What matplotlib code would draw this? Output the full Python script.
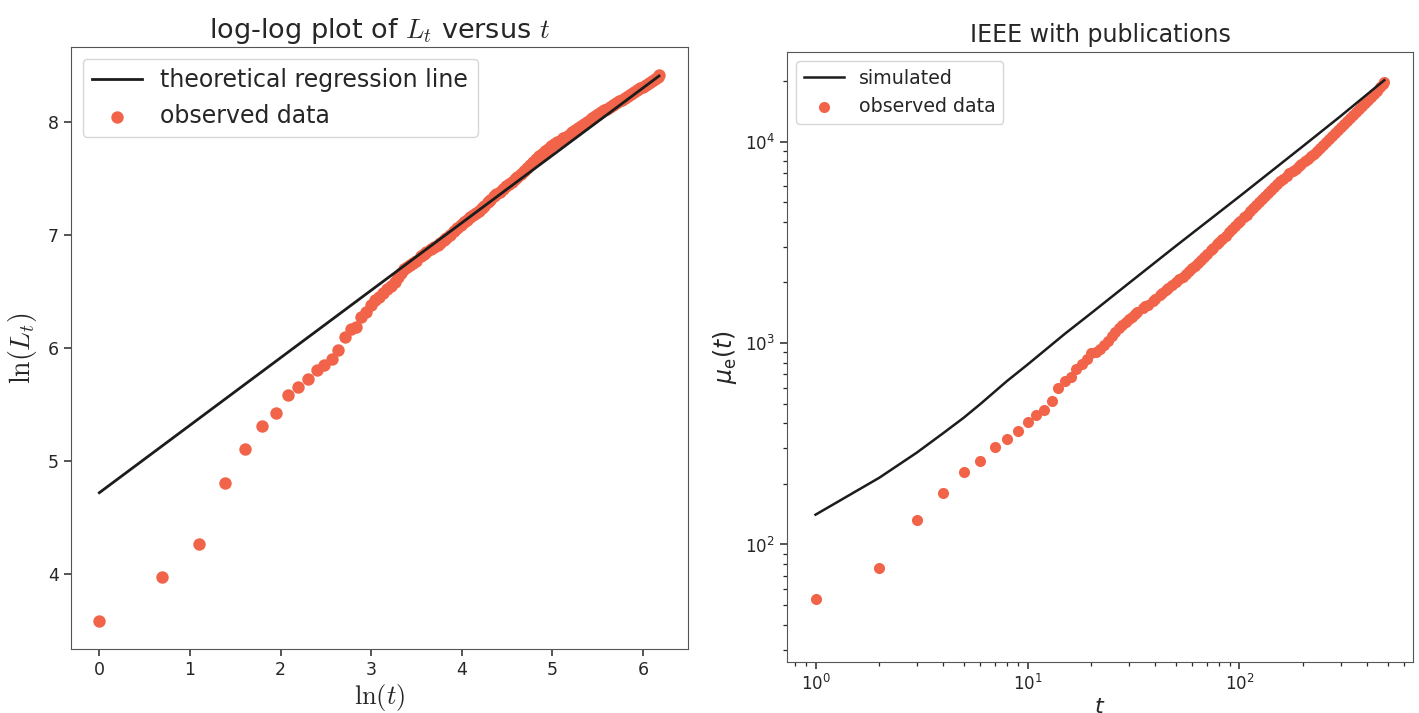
import numpy as np
import matplotlib
matplotlib.use("Agg")
import matplotlib.pyplot as plt

# time steps (same for both panels)
t = [1, 2, 3, 4, 5, 6, 7, 8, 9, 10, 11, 12, 13, 14, 15, 16, 17, 18, 19, 20,
     21, 22, 23, 24, 25, 26, 27, 28, 29, 30, 31, 32, 33, 35, 36, 37, 39, 40,
     42, 43, 45, 46, 48, 50, 52, 54, 56, 58, 60, 62, 64, 66, 68, 70, 73, 75,
     78, 80, 83, 86, 89, 92, 95, 98, 101, 105, 108, 112, 116, 120, 124, 128,
     132, 137, 141, 146, 151, 156, 161, 167, 172, 178, 184, 190, 196, 203,
     210, 217, 224, 231, 239, 247, 255, 264, 272, 281, 291, 300, 310, 320,
     331, 342, 353, 365, 377, 390, 403, 416, 430, 444, 459, 474, 482]

# left panel: ln(L_t) observed
lnL = [3.584, 3.971, 4.263, 4.800, 5.101, 5.304, 5.419, 5.581, 5.650, 5.720,
       5.803, 5.847, 5.897, 5.980, 6.092, 6.163, 6.181, 6.269, 6.319, 6.378,
       6.422, 6.453, 6.481, 6.516, 6.549, 6.584, 6.624, 6.663, 6.695, 6.715,
       6.735, 6.753, 6.771, 6.811, 6.830, 6.848, 6.875, 6.888, 6.913, 6.925,
       6.957, 6.972, 7.002, 7.031, 7.058, 7.084, 7.110, 7.133, 7.154, 7.174,
       7.193, 7.212, 7.233, 7.256, 7.290, 7.311, 7.341, 7.357, 7.381, 7.404,
       7.427, 7.448, 7.470, 7.491, 7.512, 7.540, 7.560, 7.589, 7.617, 7.644,
       7.670, 7.693, 7.714, 7.740, 7.761, 7.783, 7.801, 7.817, 7.833, 7.852,
       7.868, 7.887, 7.906, 7.924, 7.941, 7.960, 7.979, 7.997, 8.015, 8.032,
       8.051, 8.069, 8.084, 8.101, 8.116, 8.132, 8.148, 8.163, 8.180, 8.195,
       8.212, 8.229, 8.245, 8.261, 8.278, 8.295, 8.311, 8.327, 8.343, 8.359,
       8.376, 8.392, 8.410]

# theoretical regression line (end points)
reg_lnt = [0.0, 6.178]
reg_lnL = [4.717, 8.405]

# right panel: mu_e(t) observed
mu = [53.6, 76, 133, 181, 230, 259, 305, 334, 365, 405, 439, 464, 518, 601,
      652, 676, 743, 791, 834, 888, 904, 938, 982, 1028, 1079, 1135, 1186,
      1231, 1276, 1318, 1353, 1387, 1420, 1489, 1521, 1552, 1618, 1652, 1726,
      1766, 1841, 1879, 1945, 2009, 2070, 2138, 2213, 2286, 2355, 2427, 2512,
      2594, 2679, 2761, 2891, 2972, 3090, 3177, 3296, 3420, 3548, 3673, 3802,
      3926, 4055, 4217, 4345, 4519, 4688, 4864, 5035, 5200, 5372, 5585, 5768,
      5984, 6194, 6383, 6566, 6792, 6982, 7178, 7362, 7551, 7745, 7980, 8222,
      8472, 8730, 8974, 9290, 9616, 9954, 10310, 10640, 11020, 11430, 11800,
      12220, 12640, 13090, 13550, 14030, 14520, 15030, 15570, 16110, 16630,
      17280, 17910, 18600, 19310, 19850]

# simulated curve
t_sim = [1, 2, 3, 4, 5, 6, 8, 10, 15, 20, 30, 50, 100, 200, 300, 482]
mu_sim = [140.6, 214.6, 285.6, 357, 426, 499, 648, 782, 1112, 1410, 1980,
          3030, 5350, 9530, 13400, 20200]

orange = '#f2644a'
dark = '#1c1c1c'
txt = '#262626'

plt.rcParams['axes.edgecolor'] = '#555555'
plt.rcParams['xtick.color'] = txt
plt.rcParams['ytick.color'] = txt
plt.rcParams['text.color'] = txt
plt.rcParams['axes.labelcolor'] = txt

fig = plt.figure(figsize=(14.19, 7.13), dpi=100)
ax1 = fig.add_axes([70.7/1419, 64/713, 617.6/1419, 602.3/713])
ax2 = fig.add_axes([786.7/1419, 50.7/713, 626.6/1419, 610.6/713])

## left panel
ax1.plot(reg_lnt, reg_lnL, color=dark, lw=2, zorder=3, label='theoretical regression line')
ax1.scatter(np.log(t), lnL, s=80, color=orange, linewidths=0, zorder=2, label='observed data')
ax1.set_xlim(-0.316, 6.501)
ax1.set_ylim(3.334, 8.664)
ax1.set_xticks([0, 1, 2, 3, 4, 5, 6])
ax1.set_yticks([4, 5, 6, 7, 8])
ax1.tick_params(labelsize=12.5, length=5, width=1.1)
ax1.set_title(r'log-log plot of $L_t$ versus $t$', fontsize=19.5, math_fontfamily='cm', pad=6)
ax1.set_xlabel(r'$\ln(t)$', fontsize=19, math_fontfamily='cm', labelpad=2)
ax1.set_ylabel(r'$\ln(L_t)$', fontsize=20, math_fontfamily='cm', labelpad=6)
ax1.legend(loc='upper left', fontsize=17, handlelength=2.1)

## right panel
ax2.plot(t_sim, mu_sim, color=dark, lw=1.8, zorder=3, label='simulated')
ax2.scatter(t, mu, s=64, color=orange, linewidths=0, zorder=2, label='observed data')
ax2.set_xscale('log')
ax2.set_yscale('log')
ax2.set_xlim(0.731, 660.7)
ax2.set_ylim(26.0, 27990)
ax2.tick_params(which='major', labelsize=12, length=5, width=1.1)
ax2.tick_params(which='minor', length=3, width=0.9)
ax2.set_title('IEEE with publications', fontsize=17, pad=7)
ax2.set_xlabel(r'$t$', fontsize=16, labelpad=2)
ax2.set_ylabel(r'$\mu_\mathrm{e}(t)$', fontsize=17, labelpad=4)
ax2.legend(loc='upper left', fontsize=13.7, handlelength=2.1)

fig.savefig('out.png', dpi=100)
